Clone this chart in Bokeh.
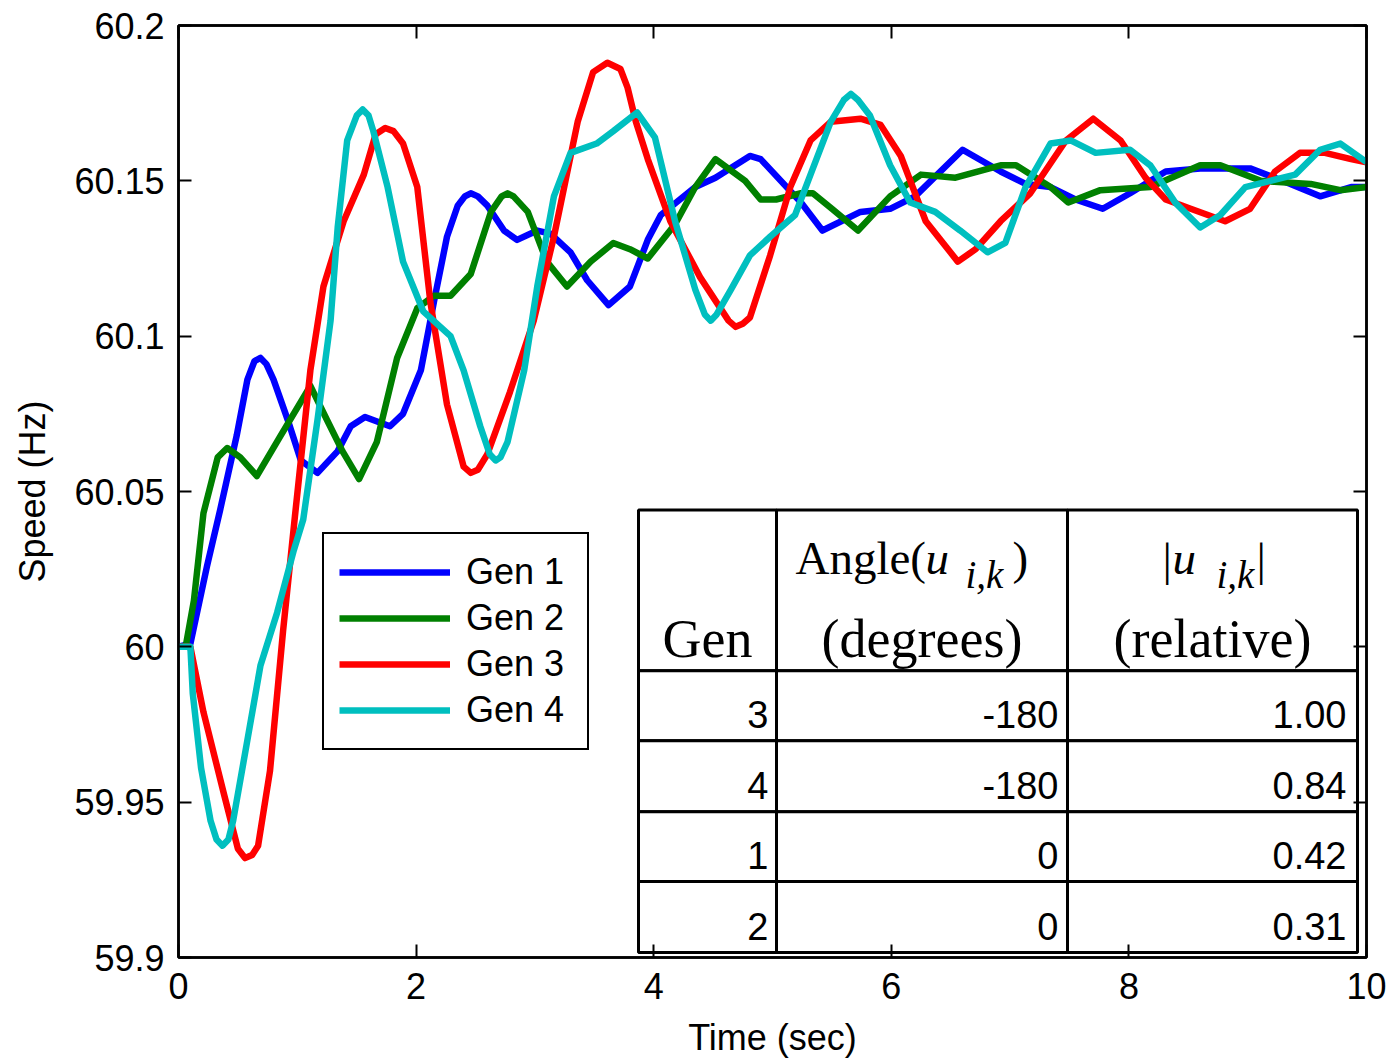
from bokeh.plotting import figure
from bokeh.models import Range1d, FixedTicker, LinearAxis
from bokeh.core.properties import value
from bokeh.embed import file_html
from bokeh.resources import INLINE

# ---------------- data ----------------
x_ticks = [0, 2, 4, 6, 8, 10]
y_ticks = [59.9, 59.95, 60.0, 60.05, 60.1, 60.15, 60.2]
y_tick_labels = ["59.9", "59.95", "60", "60.05", "60.1", "60.15", "60.2"]

gen1_t = [0, 0.1, 0.24, 0.35, 0.49, 0.58, 0.64, 0.69, 0.74, 0.80, 0.92, 1.03, 1.17, 1.34, 1.45,
          1.57, 1.78, 1.89, 2.04, 2.15, 2.26, 2.35, 2.41, 2.46, 2.52, 2.60, 2.74, 2.85, 3.02, 3.13,
          3.30, 3.44, 3.62, 3.80, 3.95, 4.06, 4.35, 4.52, 4.81, 4.90, 5.24, 5.42, 5.74, 5.99, 6.20,
          6.60, 6.92, 7.13, 7.34, 7.55, 7.78, 8.01, 8.31, 8.60, 9.02, 9.36, 9.61, 9.87, 10]
gen1_v = [60.000, 60.001, 60.026, 60.044, 60.068, 60.086, 60.092, 60.093, 60.091, 60.086, 60.073,
          60.060, 60.056, 60.063, 60.071, 60.074, 60.071, 60.075, 60.089, 60.111, 60.132, 60.142,
          60.145, 60.146, 60.145, 60.142, 60.134, 60.131, 60.134, 60.133, 60.127, 60.118, 60.110,
          60.116, 60.131, 60.139, 60.148, 60.151, 60.158, 60.157, 60.143, 60.134, 60.140, 60.141,
          60.145, 60.160, 60.153, 60.149, 60.148, 60.144, 60.141, 60.146, 60.153, 60.154, 60.154,
          60.149, 60.145, 60.148, 60.148]

gen2_t = [0, 0.06, 0.13, 0.21, 0.33, 0.41, 0.52, 0.66, 0.86, 1.11, 1.25, 1.38, 1.52, 1.67, 1.84,
          2.01, 2.15, 2.29, 2.46, 2.63, 2.72, 2.77, 2.82, 2.94, 3.10, 3.27, 3.47, 3.66, 3.80, 3.95,
          4.18, 4.35, 4.52, 4.77, 4.90, 5.03, 5.24, 5.34, 5.50, 5.72, 5.99, 6.25, 6.54, 6.92, 7.05,
          7.34, 7.49, 7.76, 8.18, 8.60, 8.77, 9.11, 9.53, 9.78, 10]
gen2_v = [60.000, 60.000, 60.015, 60.043, 60.061, 60.064, 60.061, 60.055, 60.068, 60.084, 60.073,
          60.063, 60.054, 60.066, 60.093, 60.109, 60.113, 60.113, 60.120, 60.140, 60.145, 60.146,
          60.145, 60.140, 60.124, 60.116, 60.124, 60.130, 60.128, 60.125, 60.136, 60.148, 60.157,
          60.150, 60.144, 60.144, 60.146, 60.146, 60.141, 60.134, 60.145, 60.152, 60.151, 60.155,
          60.155, 60.148, 60.143, 60.147, 60.148, 60.155, 60.155, 60.150, 60.149, 60.147, 60.148]

gen3_t = [0, 0.1, 0.21, 0.38, 0.50, 0.56, 0.62, 0.67, 0.77, 0.88, 0.98, 1.11, 1.22, 1.39, 1.56,
          1.66, 1.74, 1.81, 1.89, 2.01, 2.12, 2.26, 2.40, 2.46, 2.52, 2.60, 2.79, 2.99, 3.16, 3.36,
          3.49, 3.61, 3.72, 3.78, 3.85, 3.95, 4.14, 4.39, 4.63, 4.69, 4.75, 4.81, 4.98, 5.15, 5.32,
          5.49, 5.74, 5.91, 6.08, 6.29, 6.56, 6.71, 6.92, 7.17, 7.47, 7.70, 7.93, 8.14, 8.31, 8.52,
          8.81, 9.02, 9.23, 9.44, 9.65, 9.87, 10]
gen3_v = [60.000, 60.000, 59.979, 59.953, 59.935, 59.932, 59.933, 59.936, 59.960, 60.005, 60.042,
          60.089, 60.116, 60.137, 60.152, 60.165, 60.167, 60.166, 60.162, 60.148, 60.111, 60.078,
          60.058, 60.056, 60.057, 60.062, 60.082, 60.105, 60.132, 60.169, 60.185, 60.188, 60.186,
          60.180, 60.169, 60.157, 60.137, 60.119, 60.105, 60.103, 60.104, 60.106, 60.126, 60.148,
          60.163, 60.169, 60.170, 60.168, 60.158, 60.137, 60.124, 60.128, 60.137, 60.146, 60.163,
          60.170, 60.163, 60.151, 60.144, 60.141, 60.137, 60.141, 60.153, 60.159, 60.159, 60.157,
          60.156]

gen4_t = [0, 0.1, 0.12, 0.19, 0.27, 0.32, 0.37, 0.42, 0.46, 0.58, 0.69, 0.83, 0.97, 1.05, 1.17,
          1.28, 1.34, 1.42, 1.50, 1.55, 1.60, 1.64, 1.76, 1.89, 2.06, 2.29, 2.40, 2.54, 2.62, 2.67,
          2.71, 2.77, 2.91, 3.02, 3.16, 3.30, 3.52, 3.66, 3.86, 4.01, 4.18, 4.35, 4.43, 4.48, 4.53,
          4.65, 4.81, 4.98, 5.19, 5.32, 5.49, 5.60, 5.66, 5.72, 5.82, 5.99, 6.16, 6.37, 6.58, 6.81,
          6.96, 7.13, 7.34, 7.51, 7.72, 8.01, 8.18, 8.39, 8.60, 8.77, 8.98, 9.19, 9.40, 9.61, 9.78,
          10]
gen4_v = [60.000, 60.000, 59.985, 59.961, 59.944, 59.938, 59.936, 59.938, 59.944, 59.970, 59.994,
          60.011, 60.031, 60.041, 60.073, 60.105, 60.135, 60.163, 60.171, 60.173, 60.171, 60.166,
          60.148, 60.124, 60.108, 60.100, 60.089, 60.071, 60.062, 60.060, 60.061, 60.066, 60.089,
          60.116, 60.145, 60.159, 60.162, 60.166, 60.172, 60.164, 60.137, 60.115, 60.107, 60.105,
          60.107, 60.115, 60.126, 60.132, 60.139, 60.152, 60.169, 60.176, 60.178, 60.176, 60.171,
          60.155, 60.143, 60.140, 60.134, 60.127, 60.130, 60.148, 60.162, 60.163, 60.159, 60.160,
          60.155, 60.143, 60.135, 60.139, 60.148, 60.150, 60.152, 60.160, 60.162, 60.156]

series_names = ["Gen 1", "Gen 2", "Gen 3", "Gen 4"]
series_colors = ["#0000FF", "#008000", "#FF0000", "#00BFBF"]

table_gen = ["3", "4", "1", "2"]
table_angle = ["-180", "-180", "0", "0"]
table_mag = ["1.00", "0.84", "0.42", "0.31"]

# ---------------- layout ----------------
X_MIN, X_MAX = 0, 10
Y_MIN, Y_MAX = 59.9, 60.2
FRAME_L, FRAME_R, FRAME_T, FRAME_B = 178, 1366, 25, 958   # pixels of the plot frame
W, H = 1386, 1060
BASE_FIX = 0.35   # em correction for alphabetic baseline placement


def px_x(px):
    return X_MIN + (px - FRAME_L) / (FRAME_R - FRAME_L) * (X_MAX - X_MIN)


def px_y(py):
    return Y_MAX - (py - FRAME_T) / (FRAME_B - FRAME_T) * (Y_MAX - Y_MIN)


def base_y(py, fs):
    return px_y(py - BASE_FIX * fs)


SANS = "Liberation Sans"
SERIF = "Liberation Serif"

p = figure(width=W, height=H,
           x_range=Range1d(X_MIN, X_MAX), y_range=Range1d(Y_MIN, Y_MAX),
           output_backend="svg", toolbar_location=None,
           min_border_left=FRAME_L, min_border_right=W - FRAME_R,
           min_border_top=FRAME_T, min_border_bottom=H - FRAME_B,
           x_axis_label="Time (sec)", y_axis_label="Speed (Hz)")
p.background_fill_color = "white"
p.border_fill_color = "white"
p.xgrid.visible = False
p.ygrid.visible = False
p.outline_line_color = "black"
p.outline_line_width = 2.5

p.xaxis.ticker = FixedTicker(ticks=x_ticks)
p.yaxis.ticker = FixedTicker(ticks=y_ticks)
p.yaxis.major_label_overrides = {t: s for t, s in zip(y_ticks, y_tick_labels)}

for ax in [p.xaxis[0], p.yaxis[0]]:
    ax.axis_line_color = "black"
    ax.axis_line_width = 2.5
    ax.major_tick_in = 13
    ax.major_tick_out = 0
    ax.major_tick_line_width = 2
    ax.major_tick_line_color = "black"
    ax.minor_tick_line_color = None
    ax.major_label_text_font = SANS
    ax.major_label_text_font_size = "36px"
    ax.major_label_text_color = "black"
    ax.axis_label_text_font = SANS
    ax.axis_label_text_font_size = "36px"
    ax.axis_label_text_font_style = "normal"
    ax.axis_label_text_color = "black"

p.xaxis.major_label_standoff = 15
p.xaxis.axis_label_standoff = 15
p.yaxis.major_label_standoff = 14
p.yaxis.axis_label_standoff = 18

top_axis = LinearAxis(ticker=FixedTicker(ticks=x_ticks))
right_axis = LinearAxis(ticker=FixedTicker(ticks=y_ticks))
for ax in [top_axis, right_axis]:
    ax.axis_line_color = "black"
    ax.axis_line_width = 2.5
    ax.major_tick_in = 13
    ax.major_tick_out = 0
    ax.major_tick_line_width = 2
    ax.minor_tick_line_color = None
    ax.major_label_text_font_size = "0px"
    ax.major_label_standoff = 0
p.add_layout(top_axis, "above")
p.add_layout(right_axis, "right")

# ---------------- curves ----------------
all_t = [gen1_t, gen2_t, gen3_t, gen4_t]
all_v = [gen1_v, gen2_v, gen3_v, gen4_v]
for t, v, name, col in zip(all_t, all_v, series_names, series_colors):
    p.line(t, v, line_color=col, line_width=6.5, line_join="round", legend_label=name)

lg = p.legend[0]
lg.location = (144, 207)
lg.border_line_color = "black"
lg.border_line_alpha = 1
lg.border_line_width = 2
lg.background_fill_color = "white"
lg.background_fill_alpha = 1
lg.label_text_font = SANS
lg.label_text_font_size = "36px"
lg.label_text_color = "black"
lg.glyph_width = 111
lg.glyph_height = 46
lg.label_height = 46
lg.label_width = 106
lg.label_standoff = 16
lg.padding = 15
lg.spacing = 0
lg.margin = 0

# ---------------- table ----------------
col_edges = [638, 776, 1067, 1357]
row_edges = [510, 671, 741, 812, 882, 953]
ql, qr, qt, qb = [], [], [], []
for i in range(len(row_edges) - 1):
    for j in range(len(col_edges) - 1):
        ql.append(px_x(col_edges[j]))
        qr.append(px_x(col_edges[j + 1]))
        qt.append(px_y(row_edges[i]))
        qb.append(px_y(row_edges[i + 1]))
p.quad(left=ql, right=qr, top=qt, bottom=qb, fill_color="white", line_color="black", line_width=3)

# header line 1 (pieces: text, left px, baseline px, size, style)
pieces = [("Angle(", 795, 575, 47, "normal"), ("u", 925, 575, 47, "italic"),
          ("i,k", 965, 588, 39, "italic"), (")", 1012, 575, 47, "normal"),
          ("|", 1162, 576, 47, "normal"), ("u", 1172, 575, 47, "italic"),
          ("i,k", 1216, 588, 39, "italic"), ("|", 1256, 576, 47, "normal")]
for txt, lx, by, fs, st in pieces:
    p.text(x=[px_x(lx)], y=[base_y(by, fs)], text=[txt], text_font=value(SERIF),
           text_font_size=f"{fs}px", text_font_style=st, text_color="black",
           text_align="left", text_baseline="alphabetic")

# header line 2
hdr2 = ["Gen", "(degrees)", "(relative)"]
hdr2_x = [(col_edges[k] + col_edges[k + 1]) / 2 for k in range(3)]
p.text(x=[px_x(v) for v in hdr2_x], y=[base_y(658, 54)] * 3, text=hdr2, text_font=value(SERIF),
       text_font_size="54px", text_color="black", text_align="center", text_baseline="alphabetic")

# data rows
row_base = [row_edges[i + 1] - 13 for i in range(1, len(row_edges) - 1)]
right_px = [768, 1058, 1346]
for col_vals, rx in zip([table_gen, table_angle, table_mag], right_px):
    p.text(x=[px_x(rx)] * len(col_vals), y=[base_y(b, 38) for b in row_base], text=col_vals,
           text_font=value(SANS), text_font_size="38px", text_color="black",
           text_align="right", text_baseline="alphabetic")

open("out.html", "w").write(file_html(p, INLINE))
